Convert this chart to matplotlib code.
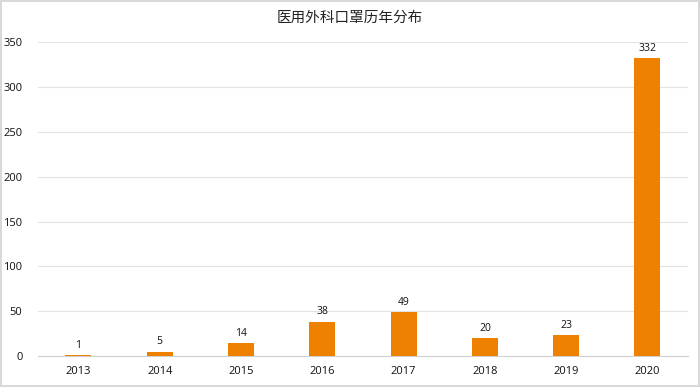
import matplotlib
matplotlib.use("Agg")
import matplotlib.pyplot as plt

# data
years = ["2013", "2014", "2015", "2016", "2017", "2018", "2019", "2020"]
counts = [1, 5, 14, 38, 49, 20, 23, 332]

plt.rcParams["font.family"] = ["Open Sans", "Noto Sans CJK SC", "DejaVu Sans"]

fig = plt.figure(figsize=(7, 3.87), dpi=100, facecolor="white",
                 edgecolor="#d9d9d9", linewidth=1.5)
ax = fig.add_axes([0.054, 0.080, 0.929, 0.811])

x = range(len(years))
bars = ax.bar(x, counts, width=0.32, color="#EE8200", zorder=3)

for i, v in enumerate(counts):
    ax.text(i, v + 5, str(v), ha="center", va="bottom", fontsize=7.5, color="#111111")

ax.set_xlim(-0.5, len(years) - 0.5)
ax.set_ylim(0, 350)
ax.set_yticks(range(0, 351, 50))
ax.set_xticks(list(x))
ax.set_xticklabels(years)
ax.tick_params(axis="both", length=0, labelsize=8, colors="#111111")
ax.tick_params(axis="x", pad=7)
ax.tick_params(axis="y", pad=11)

ax.grid(axis="y", color="#e3e3e3", linewidth=0.8, zorder=0)
for side in ["top", "right", "left"]:
    ax.spines[side].set_visible(False)
ax.spines["bottom"].set_color("#d0d0d0")
ax.spines["bottom"].set_linewidth(0.8)

fig.text(0.5, 0.955, "医用外科口罩历年分布", ha="center", va="center",
         fontsize=10.5, color="#222222", family=["Noto Sans CJK SC", "DejaVu Sans"])

fig.savefig("out.png", dpi=100)
